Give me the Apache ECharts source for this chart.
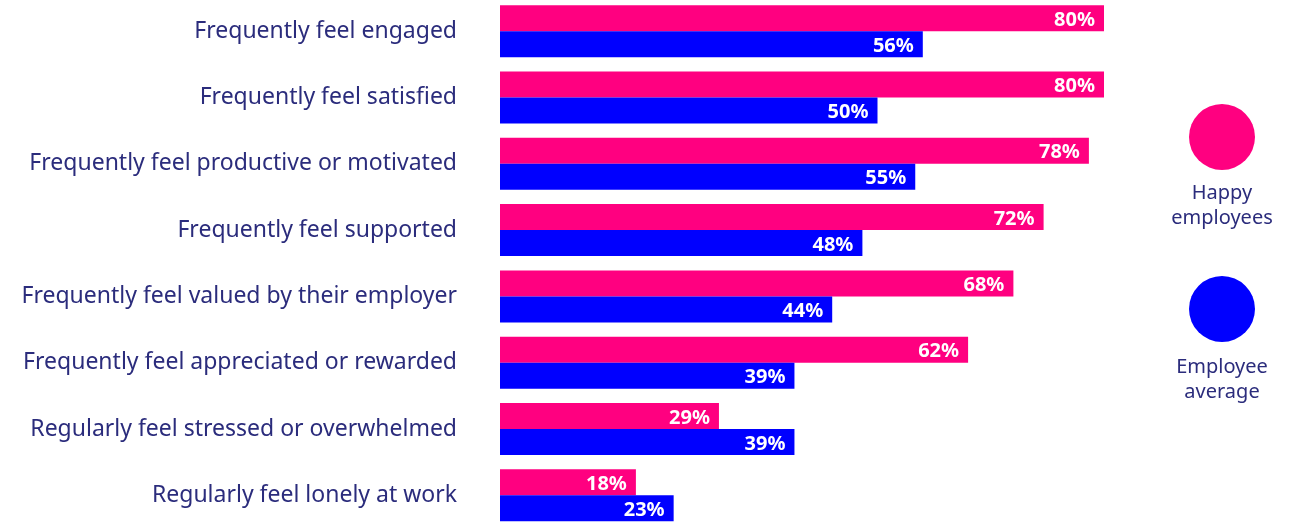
<!DOCTYPE html>
<html>
<head>
<meta charset="utf-8">
<script src="https://cdn.jsdelivr.net/npm/echarts@6/dist/echarts.min.js"></script>
<style>
  html, body { margin: 0; padding: 0; background: #fff; }
  #main { width: 1304px; height: 522px; }
</style>
</head>
<body>
<div id="main"></div>
<script>
// data
var categories = [
    'Frequently feel engaged',
    'Frequently feel satisfied',
    'Frequently feel productive or motivated',
    'Frequently feel supported',
    'Frequently feel valued by their employer',
    'Frequently feel appreciated or rewarded',
    'Regularly feel stressed or overwhelmed',
    'Regularly feel lonely at work'
];
var happyEmployees = [80, 80, 78, 72, 68, 62, 29, 18];
var employeeAverage = [56, 50, 55, 48, 44, 39, 39, 23];

var pink = '#ff0080';
var blue = '#0000ff';
var navy = '#2b2c7c';
var font = '"Noto Sans", "Open Sans", sans-serif';

var myChart = echarts.init(document.getElementById('main'));

var labelStyle = {
    show: true,
    position: 'insideRight',
    distance: 9,
    offset: [0, 2],
    color: '#fff',
    fontSize: 20,
    fontWeight: 'bold',
    fontFamily: font,
    formatter: '{c}%'
};

var option = {
    animation: false,
    grid: { left: 500, top: -2, width: 755, height: 530.5, outerBoundsMode: 'none' },
    xAxis: { type: 'value', min: 0, max: 100, show: false },
    yAxis: {
        type: 'category',
        inverse: true,
        data: categories,
        axisLine: { show: false },
        axisTick: { show: false },
        axisLabel: { margin: 43, color: navy, fontSize: 23, fontFamily: font, padding: [4, 0, 0, 0] }
    },
    series: [
        {
            name: 'Happy employees',
            type: 'bar',
            data: happyEmployees,
            barWidth: 26,
            barGap: '0%',
            itemStyle: { color: pink },
            label: labelStyle
        },
        {
            name: 'Employee average',
            type: 'bar',
            data: employeeAverage,
            barWidth: 26,
            itemStyle: { color: blue },
            label: labelStyle
        }
    ],
    // legend drawn by hand: big dots with text below
    graphic: [
        { type: 'circle', shape: { cx: 1222, cy: 137, r: 33 }, style: { fill: pink } },
        { type: 'text', x: 1222, y: 181, style: { text: 'Happy\nemployees', fill: navy, font: '20px ' + font, align: 'center', lineHeight: 25 } },
        { type: 'circle', shape: { cx: 1222, cy: 309, r: 33 }, style: { fill: blue } },
        { type: 'text', x: 1222, y: 355, style: { text: 'Employee\naverage', fill: navy, font: '20px ' + font, align: 'center', lineHeight: 25 } }
    ]
};

myChart.setOption(option);
</script>
</body>
</html>
